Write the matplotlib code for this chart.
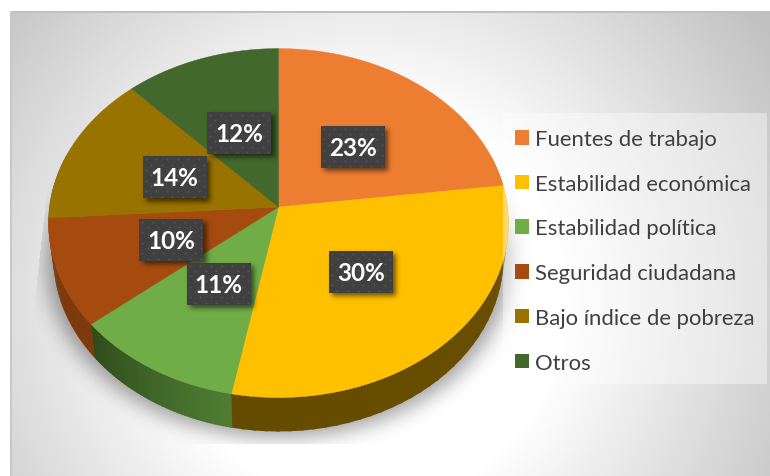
import numpy as np
import matplotlib
matplotlib.use("Agg")
import matplotlib.pyplot as plt
from matplotlib.path import Path
from matplotlib.patches import Patch, Rectangle

categories = ["Fuentes de trabajo", "Estabilidad económica", "Estabilidad política",
              "Seguridad ciudadana", "Bajo índice de pobreza", "Otros"]
values = [23, 30, 11, 10, 14, 12]
colors = ["#ED7D31", "#FFC000", "#70AD47", "#A64B10", "#997300", "#43682B"]
side_a = ["#8E4B1D", "#6B5000", "#4F7E33", "#7E3A0C", "#5C4500", "#283E1A"]
side_b = ["#8E4B1D", "#644B00", "#2F4C1C", "#7A380B", "#5C4500", "#283E1A"]

W, H = 770, 477
cx, cy, a, b, k = 278.5, 208, 229, 173, 0.092


def project(theta, r=1.0, bottom=False):
    u = r * np.sin(theta)
    v = r * np.cos(theta)
    w = 1 + k * v
    x = cx + a * u / w
    y = cy - b * v / w
    if bottom:
        x = cx + (x - cx) * 0.979
        y = y + 34
    return x, y


def blur(img, sigma):
    n = int(3 * sigma)
    g = np.exp(-0.5 * (np.arange(-n, n + 1) / sigma) ** 2)
    g = g / g.sum()
    img = np.apply_along_axis(lambda c: np.convolve(c, g, mode="same"), 0, img)
    img = np.apply_along_axis(lambda c: np.convolve(c, g, mode="same"), 1, img)
    return img


def black_layer(alpha):
    rgba = np.zeros((H, W, 4))
    rgba[..., 3] = alpha
    return rgba


fig = plt.figure(figsize=(W / 100, H / 100), dpi=100, facecolor="white")
ax = fig.add_axes([0, 0, 1, 1])

gx, gy = np.meshgrid(np.arange(W) + 0.5, np.arange(H) + 0.5)

# radial background
dist = np.hypot(gx - 365, gy - 305)
shade = np.clip(1 - (dist - 200) * 0.24 / 285, 0.76, 1)
bg = np.dstack([shade, shade, shade])
ax.imshow(bg[12:, 10:], extent=(10, W, H, 12), aspect="auto", zorder=0)
ax.add_patch(Rectangle((10, 12), W - 10, 1.6, fc="#C0C0C0", ec="none", zorder=1))
ax.add_patch(Rectangle((10, 12), 1.6, H - 12, fc="#C8C8C8", ec="none", zorder=1))

# soft shadow under the pie
ring = np.linspace(0, 2 * np.pi, 300)
rx, ry = project(ring, bottom=True)
rx = cx + (rx - cx) * 1.03
ry = ry + 6
inside = Path(np.column_stack([rx, ry])).contains_points(
    np.column_stack([gx.ravel(), gy.ravel()])).reshape(H, W)
shadow = blur(inside.astype(float), 10) * 0.38
shadow[(gy > 444.5) | (gx < 34 + (310 - gy).clip(0) * 0.11)] = 0
ax.imshow(black_layer(shadow), extent=(0, W, H, 0), aspect="auto", zorder=2)

# side of the pie, then the top face
edges = 2 * np.pi * np.cumsum([0] + values) / sum(values)
for i in range(len(values)):
    t = np.linspace(edges[i], edges[i + 1], 40)
    ca = np.array(matplotlib.colors.to_rgb(side_a[i]))
    cb = np.array(matplotlib.colors.to_rgb(side_b[i]))
    for j in range(len(t) - 1):
        if not np.pi * 0.4 < t[j] < np.pi * 1.6:
            continue
        col = ca + (cb - ca) * j / (len(t) - 2)
        # no edge, overlap the next strip a little so no seams show
        x1b, y1b = project(np.array([t[j], t[j + 1] + 0.012]), bottom=True)
        x0b, y0b = project(np.array([t[j], t[j + 1] + 0.012]))
        ax.fill(np.r_[x0b, x1b[::-1]], np.r_[y0b, y1b[::-1]], color=col, lw=0, zorder=3)

for i in range(len(values)):
    t = np.linspace(edges[i], edges[i + 1], 120)
    x, y = project(t)
    ax.fill(np.r_[cx, x], np.r_[cy, y], color=colors[i], lw=0.3, zorder=4)

# data labels
mids = (edges[:-1] + edges[1:]) / 2
lx, ly = project(mids, r=0.5)
lx = lx + 1
ly = 209 + (ly - cy) * 0.975
box_w, box_h = 64, 42
sh = np.zeros((H, W))
for px, py in zip(lx, ly):
    sh[int(py - box_h / 2 + 4):int(py + box_h / 2 + 4), int(px - box_w / 2 + 4):int(px + box_w / 2 + 4)] = 1
ax.imshow(black_layer(blur(sh, 2.5) * 0.55), extent=(0, W, H, 0), aspect="auto", zorder=5)
for val, px, py in zip(values, lx, ly):
    ax.add_patch(Rectangle((px - box_w / 2, py - box_h / 2), box_w, box_h,
                           fc="#404040", ec="none", zorder=6))
    dx, dy = [], []
    for row, yy in enumerate(np.arange(py - box_h / 2 + 3, py + box_h / 2, 5.3)):
        for xx in np.arange(px - box_w / 2 + 3 + (row % 2) * 5.3, px + box_w / 2, 10.6):
            dx.append(xx)
            dy.append(yy)
    ax.scatter(dx, dy, s=2.2, color="#545454", linewidths=0, zorder=7)
    ax.text(px, py + 0.5, f"{val}%", color="white", fontsize=17.5, fontweight="bold",
            family="Lato", ha="center", va="center", zorder=8)

# legend box lets the pie show through
ax.add_patch(Rectangle((503, 114), 264, 271, fc="white", alpha=0.4, ec="none", zorder=9))
handles = [Patch(fc=c, ec="none") for c in colors]
leg = ax.legend(handles, categories, loc="upper left", bbox_to_anchor=(515, 130),
                bbox_transform=ax.transData, frameon=False, borderpad=0, borderaxespad=0,
                fontsize=15.9, handlelength=0.64, handleheight=0.64, handletextpad=0.28,
                labelspacing=1.12, labelcolor="#404040")
for txt in leg.get_texts():
    txt.set_family("Lato")
leg.set_zorder(10)

ax.set_xlim(0, W)
ax.set_ylim(H, 0)
ax.axis("off")
fig.savefig("out.png", dpi=100)
